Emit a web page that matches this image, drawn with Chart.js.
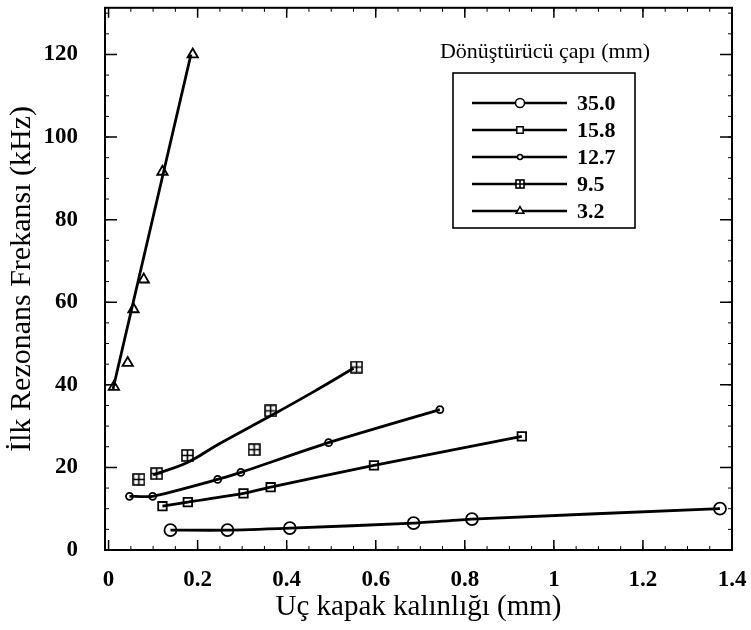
<!DOCTYPE html>
<html>
<head>
<meta charset="utf-8">
<script src="https://cdn.jsdelivr.net/npm/chart.js@4.4.1/dist/chart.umd.min.js"></script>
<style>
  html, body { margin: 0; padding: 0; background: #fff; }
  #wrap { width: 751px; height: 630px; }
</style>
</head>
<body>
<div id="wrap"><canvas id="myChart" width="751" height="630"></canvas></div>
<script>
// valeurs (x = mm, y = kHz)
const x350 = [0.139, 0.267, 0.407, 0.685, 0.816, 1.373];
const y350 = [4.8, 4.8, 5.3, 6.5, 7.5, 10.0];
const x158 = [0.121, 0.178, 0.303, 0.364, 0.596, 0.928];
const y158 = [10.6, 11.6, 13.7, 15.2, 20.5, 27.5];
const x127 = [0.047, 0.099, 0.245, 0.297, 0.494, 0.744];
const y127 = [13.0, 13.0, 17.1, 18.8, 26.0, 34.0];
const x95 = [0.068, 0.108, 0.177, 0.327, 0.364, 0.557];
const y95 = [17.1, 18.5, 22.9, 24.3, 33.7, 44.3];
const x32 = [0.012, 0.043, 0.056, 0.079, 0.121, 0.189];
const y32 = [39.5, 45.3, 58.3, 65.5, 91.6, 120];

// courbes tracees (pas exactement sur les points)
const x95curve = [0.10, 0.177, 0.245, 0.364, 0.46, 0.55];
const y95curve = [18.2, 21.2, 25.5, 32.5, 38.3, 44.0];
const x32curve = [0.01, 0.185];
const y32curve = [39.0, 120.0];

const legendLabels = ['35.0', '15.8', '12.7', '9.5', '3.2'];
const xTicks = [0, 0.2, 0.4, 0.6, 0.8, 1, 1.2, 1.4];
const yTicks = [0, 20, 40, 60, 80, 100, 120];

const serif = '"Liberation Serif", "DejaVu Serif", serif';

function pts(xs, ys) {
    let out = [];
    for (let i = 0; i < xs.length; i++) {
        out.push({ x: xs[i], y: ys[i] });
    }
    return out;
}

// carre avec croix pour 9.5
function squareCross(size) {
    const c = document.createElement('canvas');
    c.width = size; c.height = size;
    const g = c.getContext('2d');
    g.fillStyle = '#fff';
    g.fillRect(1, 1, size - 2, size - 2);
    g.strokeStyle = '#000';
    g.lineWidth = 1.6;
    g.strokeRect(1, 1, size - 2, size - 2);
    g.beginPath();
    g.moveTo(size / 2, 1); g.lineTo(size / 2, size - 1);
    g.moveTo(1, size / 2); g.lineTo(size - 1, size / 2);
    g.stroke();
    return c;
}
const sqCross = squareCross(13);
const sqCrossSmall = squareCross(10);

function lineSet(data, tension) {
    return {
        data: data, showLine: true, pointRadius: 0, borderColor: '#000',
        borderWidth: 2.8, tension: tension, fill: false
    };
}
function markSet(data, style, radius) {
    return {
        data: data, showLine: false, pointStyle: style, pointRadius: radius,
        borderColor: '#000', backgroundColor: '#fff', borderWidth: 1.8
    };
}

const markers = [
    { style: 'circle', r: 6 },
    { style: 'rect', r: 6 },
    { style: 'circle', r: 3.5 },
    { style: sqCross, r: 6 },
    { style: 'triangle', r: 6 }
];

const datasets = [
    lineSet(pts(x350, y350), 0.2),
    lineSet(pts(x158, y158), 0.2),
    lineSet(pts(x127, y127), 0.2),
    lineSet(pts(x95curve, y95curve), 0.4),
    lineSet(pts(x32curve, y32curve), 0),
    markSet(pts(x350, y350), markers[0].style, markers[0].r),
    markSet(pts(x158, y158), markers[1].style, markers[1].r),
    markSet(pts(x127, y127), markers[2].style, markers[2].r),
    markSet(pts(x95, y95), markers[3].style, markers[3].r),
    markSet(pts(x32, y32), markers[4].style, markers[4].r)
];

// cadre, graduations vers l'interieur et legende dans le graphique
const framePlugin = {
    id: 'frame',
    afterDraw(chart) {
        const ctx = chart.ctx;
        const a = chart.chartArea;
        const xs = chart.scales.x, ys = chart.scales.y;
        ctx.save();
        ctx.strokeStyle = '#000';
        ctx.lineWidth = 2;
        ctx.strokeRect(a.left, a.top, a.right - a.left, a.bottom - a.top);
        ctx.lineWidth = 1.5;
        ctx.beginPath();
        xTicks.forEach(v => {
            const px = xs.getPixelForValue(v);
            ctx.moveTo(px, a.bottom); ctx.lineTo(px, a.bottom - 10);
            ctx.moveTo(px, a.top); ctx.lineTo(px, a.top + 10);
        });
        yTicks.forEach(v => {
            const py = ys.getPixelForValue(v);
            ctx.moveTo(a.left, py); ctx.lineTo(a.left + 12, py);
            ctx.moveTo(a.right, py); ctx.lineTo(a.right - 12, py);
        });
        ctx.stroke();
        // petites graduations
        ctx.lineWidth = 1;
        ctx.beginPath();
        for (let v = 0.05; v < 1.4; v += 0.05) {
            const px = xs.getPixelForValue(v);
            ctx.moveTo(px, a.bottom); ctx.lineTo(px, a.bottom - 4);
            ctx.moveTo(px, a.top); ctx.lineTo(px, a.top + 4);
        }
        for (let v = 5; v < 131; v += 5) {
            const py = ys.getPixelForValue(v);
            ctx.moveTo(a.left, py); ctx.lineTo(a.left + 4, py);
            ctx.moveTo(a.right, py); ctx.lineTo(a.right - 4, py);
        }
        ctx.stroke();

        // legende
        ctx.fillStyle = '#000';
        ctx.font = '22px ' + serif;
        ctx.textAlign = 'center';
        ctx.textBaseline = 'middle';
        ctx.fillText('Dönüştürücü çapı (mm)', 545, 52);
        ctx.lineWidth = 1.6;
        ctx.strokeRect(453, 73, 182, 155);
        ctx.font = 'bold 22px ' + serif;
        ctx.textAlign = 'left';
        legendLabels.forEach((lab, i) => {
            const y = 103 + i * 27;
            ctx.lineWidth = 2.4;
            ctx.strokeStyle = '#000';
            ctx.beginPath();
            ctx.moveTo(472, y); ctx.lineTo(567, y);
            ctx.stroke();
            const st = i === 3 ? sqCrossSmall : markers[i].style;
            ctx.fillStyle = '#fff';
            ctx.lineWidth = 1.5;
            Chart.helpers.drawPoint(ctx, {
                pointStyle: st, radius: i === 2 ? 2.5 : 4.5, rotation: 0, borderWidth: 1.5
            }, 520, y);
            ctx.fillStyle = '#000';
            ctx.fillText(lab, 577, y + 1);
        });
        ctx.restore();
    }
};

const config = {
    type: 'scatter',
    data: { datasets: datasets },
    options: {
        responsive: false,
        animation: false,
        layout: { padding: { top: 5, right: 19, left: 0, bottom: 0 } },
        plugins: { legend: { display: false }, tooltip: { enabled: false } },
        scales: {
            x: {
                type: 'linear', min: -0.008, max: 1.4,
                grid: { display: true, drawOnChartArea: false, drawTicks: true, tickLength: 16, color: 'rgba(0,0,0,0)' },
                border: { display: false },
                ticks: {
                    includeBounds: false, stepSize: 0.2, padding: 0, color: '#000',
                    font: { family: serif, size: 23, weight: 'bold' },
                    callback: v => Math.round(v * 10) / 10
                },
                title: {
                    display: true, text: 'Uç kapak kalınlığı (mm)', color: '#000',
                    font: { family: serif, size: 29 }, padding: { top: 0, bottom: 5 }
                },
                afterFit: s => { s.height = 80; }
            },
            y: {
                type: 'linear', min: 0, max: 131.3,
                grid: { display: true, drawOnChartArea: false, drawTicks: true, tickLength: 36, color: 'rgba(0,0,0,0)' },
                border: { display: false },
                ticks: {
                    includeBounds: false, stepSize: 20, padding: -9, color: '#000',
                    font: { family: serif, size: 23, weight: 'bold' }
                },
                title: {
                    display: true, text: 'İlk Rezonans Frekansı (kHz)', color: '#000',
                    font: { family: serif, size: 30 }, padding: { top: 4, bottom: 0 }
                },
                afterFit: s => { s.width = 105; }
            }
        }
    },
    plugins: [framePlugin]
};

window.addEventListener('load', () => {
    new Chart(document.getElementById('myChart'), config);
});
</script>
</body>
</html>
